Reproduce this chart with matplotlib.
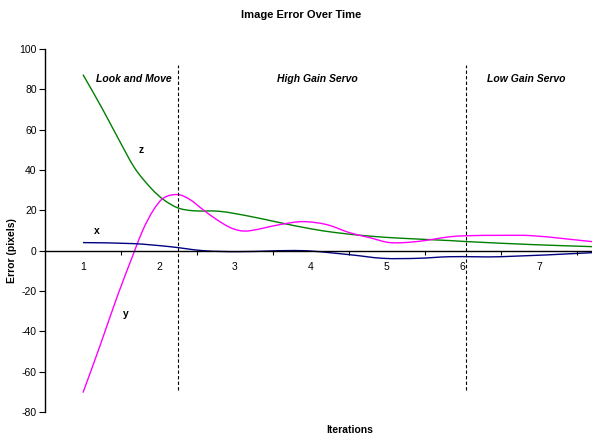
import matplotlib
matplotlib.use("Agg")
import matplotlib.pyplot as plt
from matplotlib.path import Path
from matplotlib.patches import PathPatch
import numpy as np

plt.rcParams['font.family'] = ['Liberation Sans', 'DejaVu Sans']

# ---- data ----
z_iter = [1.0, 1.25, 1.46, 1.68, 1.9, 2.06, 2.25, 2.45, 2.8, 3.2, 3.59, 3.99, 4.34, 4.78, 5.17, 5.83, 6.05, 6.92, 7.7]
z_err = [87.3, 70.7, 55.9, 41.0, 30.8, 25.3, 21.2, 19.8, 19.5, 17.0, 13.9, 10.9, 8.9, 7.2, 6.2, 5.0, 4.5, 3.0, 2.0]

y_iter = [1.0, 1.22, 1.45, 1.66, 1.79, 1.93, 2.06, 2.25, 2.41, 2.58, 2.76, 2.93, 3.07, 3.2, 3.59, 3.89, 4.21, 4.51,
          4.78, 5.04, 5.39, 5.83, 6.05, 6.5, 6.92, 7.7]
y_err = [-70.4, -47.6, -22.8, -2.0, 10.4, 20.3, 26.1, 27.8, 25.3, 20.3, 15.4, 11.6, 9.9, 9.9, 12.9, 14.4, 12.9, 8.9,
         6.4, 4.0, 4.5, 6.9, 7.4, 7.6, 7.4, 4.5]

x_iter = [1.0, 1.66, 2.14, 2.58, 3.03, 3.89, 4.51, 4.95, 5.4, 5.83, 6.5, 7.7]
x_err = [4.0, 3.5, 2.0, 0.0, -0.5, 0.0, -2.0, -3.8, -3.8, -3.0, -3.0, -1.0]

phase_bounds = [2.25, 6.04]
phase_names = ["Look and Move", "High Gain Servo", "Low Gain Servo"]
phase_label_x = [1.67, 4.08, 6.83]

xticks = [1, 2, 3, 4, 5, 6, 7]
yticks = [-80, -60, -40, -20, 0, 20, 40, 60, 80, 100]


def smooth_path(xs, ys):
    """Smoothed line (like a spreadsheet 'smoothed line') through the given points."""
    xs = np.asarray(xs, float)
    ys = np.asarray(ys, float)
    n = len(xs)
    m = np.zeros(n)
    for i in range(n):
        if i == 0:
            m[i] = (ys[1] - ys[0]) / (xs[1] - xs[0])
        elif i == n - 1:
            m[i] = (ys[-1] - ys[-2]) / (xs[-1] - xs[-2])
        else:
            m[i] = (ys[i + 1] - ys[i - 1]) / (xs[i + 1] - xs[i - 1])
    verts = [(xs[0], ys[0])]
    codes = [Path.MOVETO]
    for i in range(n - 1):
        dx = xs[i + 1] - xs[i]
        verts += [(xs[i] + dx / 3, ys[i] + m[i] * dx / 3),
                  (xs[i + 1] - dx / 3, ys[i + 1] - m[i + 1] * dx / 3),
                  (xs[i + 1], ys[i + 1])]
        codes += [Path.CURVE4] * 3
    return Path(verts, codes)


fig = plt.figure(figsize=(5.92, 4.34), dpi=100)
ax = fig.add_axes([45 / 592, 1 - 412 / 434, 1 - 45 / 592, (412 - 49) / 434])
ax.set_xlim(0.5, 7.7)
ax.set_ylim(-80, 100)

for xs, ys, col in [(z_iter, z_err, '#008000'), (y_iter, y_err, '#FF00FF'), (x_iter, x_err, '#000080')]:
    ax.add_patch(PathPatch(smooth_path(xs, ys), facecolor='none', edgecolor=col, lw=1.0))

for b in phase_bounds:
    ax.plot([b, b], [-69, 92], color='black', lw=0.8, ls=(0, (3, 2)))

for name, px in zip(phase_names, phase_label_x):
    ax.text(px, 85, name, ha='center', va='center', fontsize=7.5,
            fontweight='bold', fontstyle='italic')

ax.text(1.76, 50, 'z', ha='center', va='center', fontsize=7.5, fontweight='bold')
ax.text(1.18, 10, 'x', ha='center', va='center', fontsize=7.5, fontweight='bold')
ax.text(1.57, -31.5, 'y', ha='center', va='center', fontsize=7.5, fontweight='bold')

# axes styling
for s in ['top', 'right']:
    ax.spines[s].set_visible(False)
ax.spines['bottom'].set_position(('data', 0))
ax.spines['left'].set_linewidth(1.0)
ax.spines['bottom'].set_linewidth(1.0)

ax.set_yticks(yticks)
ax.set_yticklabels([str(v) for v in yticks], fontsize=7.5)
ax.tick_params(axis='y', direction='out', length=4, width=0.8, pad=2)

ax.set_xticks(xticks)
ax.set_xticklabels([str(v) for v in xticks], fontsize=7.5)
ax.set_xticks([v + 0.5 for v in xticks], minor=True)
ax.tick_params(axis='x', which='major', length=0, pad=8)
ax.tick_params(axis='x', which='minor', direction='out', length=3, width=0.8)

fig.text(301 / 592, 1 - 15 / 434, 'Image Error Over Time', ha='center', va='center',
         fontsize=8, fontweight='bold')
fig.text(12 / 592, 1 - 251 / 434, 'Error (pixels)', ha='center', va='center',
         rotation=90, fontsize=7.5, fontweight='bold')
fig.text(350 / 592, 1 - 430 / 434, 'Iterations', ha='center', va='center',
         fontsize=7.5, fontweight='bold')

fig.savefig('out.png', dpi=100)
